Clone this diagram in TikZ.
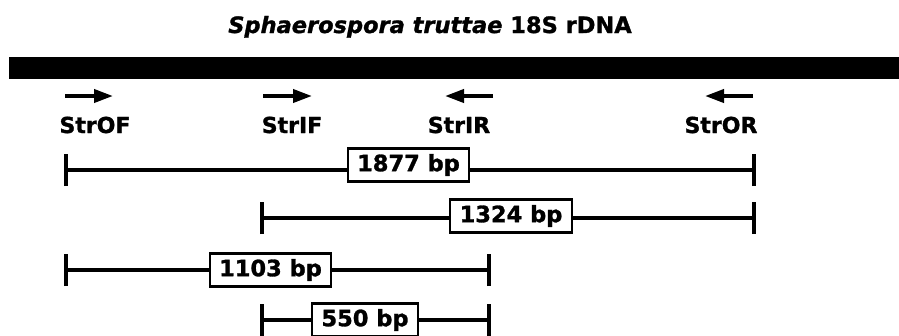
\documentclass[tikz,border=0pt]{standalone}
\usepackage{fontspec}
\setmainfont{DejaVu Sans}[BoldFeatures={FakeBold=1.3}, BoldItalicFeatures={FakeBold=1.3}]
\usetikzlibrary{arrows.meta}
\begin{document}
\begin{tikzpicture}[x=1pt,y=-1pt,
  lbl/.style={font=\fontsize{22}{26}\selectfont\bfseries, inner sep=0pt},
  bpbox/.style={draw, line width=2.2pt, fill=white, font=\fontsize{22.5}{26}\selectfont\bfseries, inner xsep=9.5pt, inner ysep=0pt, minimum height=33pt},
  span/.style={line width=3.8pt},
  tick/.style={line width=4.5pt},
  primer/.style={line width=3.8pt, -{Triangle[length=19pt,width=13pt]}}]
\useasboundingbox (0,0) rectangle (899,335);
% title
\node[lbl, font=\fontsize{22.5}{26}\selectfont\bfseries, anchor=base] (title) at (430,33) {\itshape Sphaerospora truttae\upshape{} 18S rDNA};
% gene bar
\node[fill=black, draw=none, minimum width=890pt, minimum height=22pt, inner sep=0pt, anchor=north west] (gene) at (9,57) {};
% primers
\coordinate (OFa) at (65,96);  \coordinate (OFb) at (113,96);
\coordinate (IFa) at (263,96); \coordinate (IFb) at (312,96);
\coordinate (IRa) at (493,96); \coordinate (IRb) at (445,96);
\coordinate (ORa) at (753,96); \coordinate (ORb) at (705,96);
\draw[primer] (OFa) -- (OFb);
\draw[primer] (IFa) -- (IFb);
\draw[primer] (IRa) -- (IRb);
\draw[primer] (ORa) -- (ORb);
\node[lbl, anchor=base] (StrOF) at (95,133) {StrOF};
\node[lbl, anchor=base] (StrIF) at (292,133) {StrIF};
\node[lbl, anchor=base] (StrIR) at (459,133) {StrIR};
\node[lbl, anchor=base] (StrOR) at (721,133) {StrOR};
% span 1
\coordinate (s1l) at (66,170); \coordinate (s1r) at (754,170);
\node[bpbox] (b1) at (408.5,165) {1877 bp};
\draw[span] (s1l) -- (s1l -| b1.west);
\draw[span] (s1r -| b1.east) -- (s1r);
\draw[tick] ([yshift=-16pt]s1l) -- ([yshift=16pt]s1l);
\draw[tick] ([yshift=-16pt]s1r) -- ([yshift=16pt]s1r);
% span 2
\coordinate (s2l) at (262,218); \coordinate (s2r) at (754,218);
\node[bpbox] (b2) at (511,216) {1324 bp};
\draw[span] (s2l) -- (s2l -| b2.west);
\draw[span] (s2r -| b2.east) -- (s2r);
\draw[tick] ([yshift=-16pt]s2l) -- ([yshift=16pt]s2l);
\draw[tick] ([yshift=-16pt]s2r) -- ([yshift=16pt]s2r);
% span 3
\coordinate (s3l) at (66,270); \coordinate (s3r) at (489,270);
\node[bpbox] (b3) at (270.5,270) {1103 bp};
\draw[span] (s3l) -- (s3l -| b3.west);
\draw[span] (s3r -| b3.east) -- (s3r);
\draw[tick] ([yshift=-16pt]s3l) -- ([yshift=16pt]s3l);
\draw[tick] ([yshift=-16pt]s3r) -- ([yshift=16pt]s3r);
% span 4
\coordinate (s4l) at (262,320); \coordinate (s4r) at (489,320);
\node[bpbox] (b4) at (365,320) {550 bp};
\draw[span] (s4l) -- (s4l -| b4.west);
\draw[span] (s4r -| b4.east) -- (s4r);
\draw[tick] ([yshift=-16pt]s4l) -- ([yshift=16pt]s4l);
\draw[tick] ([yshift=-16pt]s4r) -- ([yshift=16pt]s4r);
\end{tikzpicture}
\end{document}
